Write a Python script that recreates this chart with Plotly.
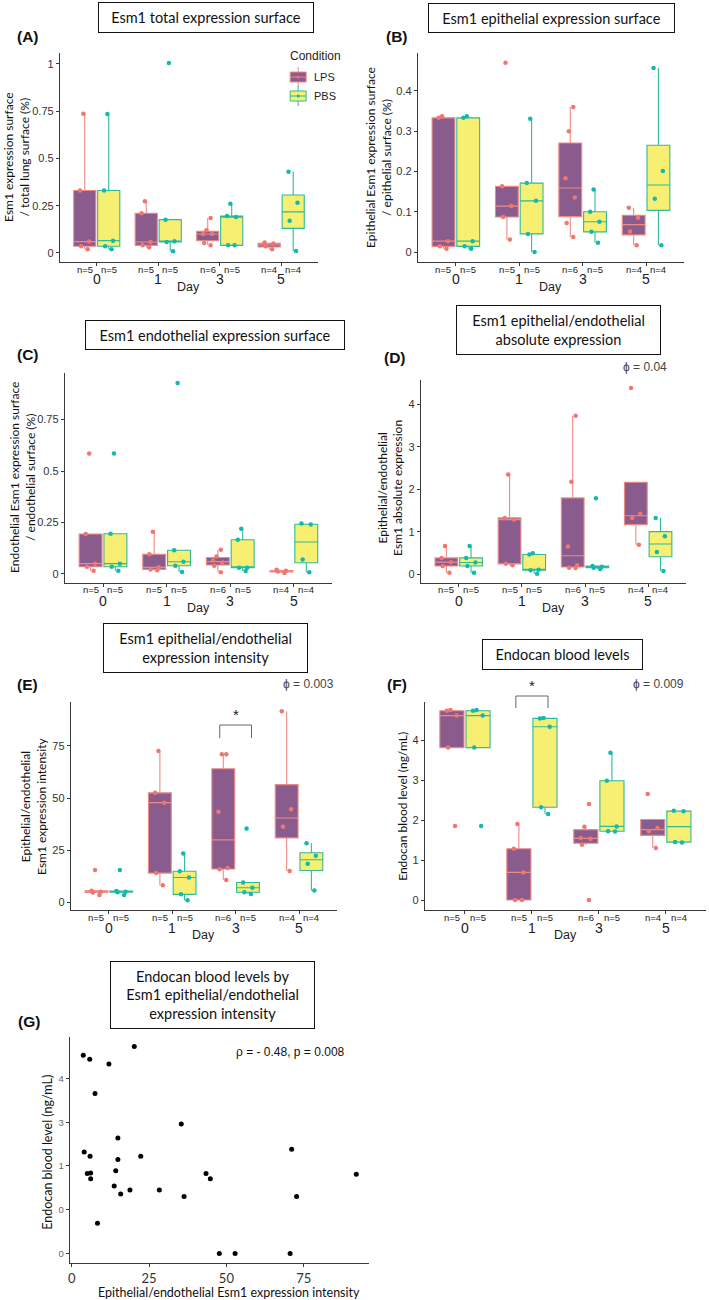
import numpy as np
import plotly.graph_objects as go

W, H = 709, 1300
DAYS = ["0", "1", "3", "5"]
CONDITIONS = ["LPS", "PBS"]

# ---- values (one list per day: 0, 1, 3, 5) ----
A_LPS = [[0.02, 0.035, 0.06, 0.33, 0.737], [0.03, 0.04, 0.058, 0.21, 0.273],
         [0.04, 0.053, 0.1, 0.1, 0.12, 0.185], [0.02, 0.035, 0.05, 0.055]]
A_PBS = [[0.02, 0.035, 0.065, 0.33, 0.735], [0.009, 0.058, 0.062, 0.176, 1.005],
         [0.04, 0.04, 0.19, 0.195, 0.26], [0.01, 0.17, 0.265, 0.43]]
B_LPS = [[0.008, 0.014, 0.027, 0.333, 0.337], [0.031, 0.087, 0.114, 0.163, 0.47],
         [0.037, 0.072, 0.135, 0.183, 0.30, 0.36], [0.017, 0.051, 0.085, 0.11]]
B_PBS = [[0.008, 0.014, 0.027, 0.333, 0.337], [0.0, 0.045, 0.127, 0.171, 0.331],
         [0.023, 0.05, 0.075, 0.1, 0.155], [0.017, 0.132, 0.201, 0.457]]
C_LPS = [[0.015, 0.035, 0.05, 0.194, 0.585], [0.018, 0.022, 0.032, 0.096, 0.205],
         [0.008, 0.04, 0.055, 0.065, 0.085, 0.118], [0.005, 0.012, 0.015, 0.02]]
C_PBS = [[0.015, 0.035, 0.05, 0.195, 0.585], [0.01, 0.04, 0.059, 0.115, 0.927],
         [0.014, 0.03, 0.03, 0.166, 0.22], [0.008, 0.07, 0.24, 0.245]]
D_LPS = [[0.04, 0.2, 0.29, 0.39, 0.67], [0.22, 0.25, 1.29, 1.33, 2.35],
         [0.15, 0.16, 0.22, 0.66, 2.18, 3.73], [0.7, 1.33, 1.43, 4.38]]
D_PBS = [[0.04, 0.2, 0.28, 0.39, 0.67], [0.016, 0.1, 0.11, 0.47, 0.5],
         [0.13, 0.16, 0.18, 0.2, 1.79], [0.08, 0.53, 0.9, 1.33]]
E_LPS = [[3.5, 4.7, 5.0, 5.5, 15.5], [8.2, 14, 47.8, 52.5, 72.6],
         [10.7, 15.8, 16.5, 43.4, 71, 71], [15, 36.2, 44.7, 91.7]]
E_PBS = [[3.5, 4.8, 5.0, 5.4, 15.5], [1, 3.8, 11.9, 14.9, 23.4],
         [4, 4.8, 7, 9.5, 35.4], [5.6, 18.5, 22.3, 28.3]]
F_LPS = [[1.85, 3.81, 4.61, 4.73, 4.75], [0, 0, 0.69, 1.28, 1.9],
         [0, 1.38, 1.53, 1.55, 1.83, 2.4], [1.3, 1.72, 1.8, 2.65]]
F_PBS = [[1.85, 3.81, 4.61, 4.73, 4.75], [2.15, 2.32, 4.33, 4.54, 4.55],
         [1.71, 1.72, 1.84, 2.98, 3.68], [1.44, 1.45, 2.22, 2.23]]

G_INTENSITY = [3.7, 5.8, 12.0, 20.2, 7.5, 35.4, 4.0, 5.9, 14.9, 14.9, 22.3, 5.0, 6.1, 6.1,
               14.2, 13.7, 15.8, 18.8, 28.3, 36.3, 43.4, 44.8, 71.1, 72.7, 92.0, 8.3,
               47.7, 52.8, 70.6]
G_ENDOCAN = [4.53, 4.44, 4.33, 4.73, 3.66, 2.96, 2.32, 2.22, 2.64, 2.15, 2.22, 1.83, 1.84, 1.71,
             1.89, 1.54, 1.36, 1.45, 1.45, 1.30, 1.83, 1.71, 2.38, 1.30, 1.81, 0.69,
             0.0, 0.0, 0.0]

PANEL_TITLES = ["Esm1 total expression surface", "Esm1 epithelial expression surface",
                "Esm1 endothelial expression surface",
                "Esm1 epithelial/endothelial<br>absolute expression",
                "Esm1 epithelial/endothelial<br>expression intensity",
                "Endocan blood levels",
                "Endocan blood levels by<br>Esm1 epithelial/endothelial<br>expression intensity"]
Y_TITLES = ["Esm1 expression surface<br>/ total lung surface (%)",
            "Epithelial Esm1 expression surface<br>/ epithelial surface (%)",
            "Endothelial Esm1 expression surface<br>/ endothelial surface (%)",
            "Epithelial/endothelial<br>Esm1 absolute expression",
            "Epithelial/endothelial<br>Esm1 expression intensity",
            "Endocan blood level (ng/mL)",
            "Endocan blood level (ng/mL)"]
G_X_TITLE = "Epithelial/endothelial Esm1 expression intensity"
G_Y_TICKTEXT = ["0", "0", "1", "3", "4"]
PVALUES = {"D": "ϕ = 0.04", "E": "ϕ = 0.003", "F": "ϕ = 0.009"}
G_STAT = "ρ = - 0.48, p = 0.008"

# ---- styles ----
LPS_FILL, PBS_FILL = "#8A5B8D", "#F7EF72"
LPS_LINE, PBS_LINE = "#EE8A86", "#2FBA98"
LPS_PT, PBS_PT = "#F2766E", "#13B9B0"
AX = "#3a3a3a"
TXT_FONT = "Lato"
TICK_FONT = "Liberation Sans"
OFF, BW = 0.195, 0.36


def X(px):
    return px / W


def Y(py):
    return 1 - py / H


def stats(vals):
    v = np.sort(np.asarray(vals, float))
    q1, med, q3 = np.percentile(v, [25, 50, 75])
    iqr = q3 - q1
    lo = v[v >= q1 - 1.5 * iqr].min()
    hi = v[v <= q3 + 1.5 * iqr].max()
    return q1, med, q3, lo, hi


annotations = []
shapes = []


def note(x, y, text, size, family=TICK_FONT, color="#222", xref="paper", yref="paper",
         xanchor="center", **kw):
    annotations.append(dict(x=x, y=y, xref=xref, yref=yref, text=text, showarrow=False,
                            xanchor=xanchor, yanchor="middle",
                            font=dict(size=size, family=family, color=color), **kw))


# panel geometry in page pixels: x-left, x-right, y-top, y-bottom
panels = [
    dict(k="A", lps=A_LPS, pbs=A_PBS, xd=(58, 317), yd=(53, 262), yr=(-0.048, 1.058),
         yt=[0, 0.25, 0.5, 0.75, 1], lab=(26, 37), box=(205, 17.5, 216, 31), yt_x=15, yt_y=157),
    dict(k="B", lps=B_LPS, pbs=B_PBS, xd=(417, 684), yd=(53, 262), yr=(-0.0248, 0.494),
         yt=[0, 0.1, 0.2, 0.3, 0.4], lab=(396, 37), box=(551.5, 18, 247, 30), yt_x=378, yt_y=157),
    dict(k="C", lps=C_LPS, pbs=C_PBS, xd=(63, 331), yd=(373, 583), yr=(-0.044, 0.976),
         yt=[0, 0.25, 0.5, 0.75], lab=(26, 355), box=(214, 335, 260, 30), yt_x=20, yt_y=477),
    dict(k="D", lps=D_LPS, pbs=D_PBS, xd=(420, 686), yd=(380, 583), yr=(-0.2, 4.57),
         yt=[0, 1, 2, 3, 4], lab=(394, 358), box=(558.5, 330, 205, 50), yt_x=389, yt_y=488),
    dict(k="E", lps=E_LPS, pbs=E_PBS, xd=(69, 336), yd=(702, 910), yr=(-3.7, 96.1),
         yt=[0, 25, 50, 75], lab=(26, 684), box=(204.5, 648, 205, 50), yt_x=31, yt_y=806),
    dict(k="F", lps=F_LPS, pbs=F_PBS, xd=(424, 706), yd=(702, 910), yr=(-0.25, 4.95),
         yt=[0, 1, 2, 3, 4], lab=(396, 684), box=(562.5, 654.5, 161, 31), yt_x=401, yt_y=806),
]

fig = go.Figure()

for i, p in enumerate(panels):
    n = "" if i == 0 else str(i + 1)
    xa, ya = "x" + n, "y" + n
    for cond, data, fill, line, pt, off in [
        ("LPS", p["lps"], LPS_FILL, LPS_LINE, LPS_PT, -OFF),
        ("PBS", p["pbs"], PBS_FILL, PBS_LINE, PBS_PT, OFF),
    ]:
        for d, vals in enumerate(data):
            pos = d + 1 + off
            q1, med, q3, lo, hi = stats(vals)
            fig.add_trace(go.Box(
                x=[pos], q1=[q1], median=[med], q3=[q3], lowerfence=[lo], upperfence=[hi],
                orientation="v", width=BW, fillcolor=fill, line=dict(color=line, width=1.1),
                whiskerwidth=0, boxpoints=False, xaxis=xa, yaxis=ya, name=cond,
                showlegend=False, hoverinfo="skip"))
            fig.add_trace(go.Box(
                x=[pos] * len(vals), y=vals, orientation="v", width=BW, boxpoints="all",
                jitter=0.5, pointpos=0, fillcolor="rgba(0,0,0,0)",
                line=dict(width=0, color="rgba(0,0,0,0)"), whiskerwidth=0,
                marker=dict(color=pt, size=4.5), xaxis=xa, yaxis=ya,
                showlegend=False, hoverinfo="skip"))
            note(pos, Y(p["yd"][1] + 7), f"n={len(vals)}", 9.5, xref=xa)
    for d, day in enumerate(DAYS):
        note(d + 1, Y(p["yd"][1] + 17.5), day, 14, xref=xa)
    note(0.5, Y(p["yd"][1] + 25), "Day", 12.5, xref=xa + " domain")
    fig.layout["xaxis" + n] = dict(
        domain=[X(p["xd"][0]), X(p["xd"][1])], range=[0.4, 4.6], anchor=ya,
        tickvals=[1, 2, 3, 4], showticklabels=False, ticks="outside", ticklen=3,
        tickcolor=AX, showline=True, linecolor=AX, linewidth=1, showgrid=False,
        zeroline=False)
    fig.layout["yaxis" + n] = dict(
        domain=[Y(p["yd"][1]), Y(p["yd"][0])], range=list(p["yr"]), anchor=xa,
        tickvals=p["yt"], ticks="outside", ticklen=3, tickcolor=AX, showline=True,
        linecolor=AX, linewidth=1, showgrid=False, zeroline=False,
        tickfont=dict(size=11, family=TICK_FONT, color="#333"))
    note(X(p["lab"][0]), Y(p["lab"][1]), f"<b>({p['k']})</b>", 15.5, color="#111")
    bx, by, bw, bh = p["box"]
    note(X(bx), Y(by), PANEL_TITLES[i], 14.5, family=TXT_FONT, color="#111",
         width=bw - 2, height=bh - 2, bordercolor="#111", borderwidth=1, borderpad=0,
         bgcolor="white")
    note(X(p["yt_x"]), Y(p["yt_y"]), Y_TITLES[i], 12, family=TXT_FONT, color="#111",
         textangle=-90)

# p-value texts
note(X(645), Y(367), PVALUES["D"], 12, color="#444")
note(X(307), Y(684), PVALUES["E"], 12, color="#444")
note(X(658), Y(684), PVALUES["F"], 12, color="#444")


# significance brackets (E: day 3, F: day 1)
def bracket(xa, center, half, y_top, y_bot, star_y):
    for x0, x1, y0, y1 in [(center - half, center + half, y_top, y_top),
                           (center - half, center - half, y_top, y_bot),
                           (center + half, center + half, y_top, y_bot)]:
        shapes.append(dict(type="line", xref=xa, yref="paper", x0=x0, x1=x1,
                           y0=Y(y0), y1=Y(y1), line=dict(color="#666", width=1)))
    note(center, Y(star_y), "*", 15, xref=xa)


bracket("x5", 3, 0.25, 725, 738, 714)
bracket("x6", 2, 0.24, 696, 708, 685)

# ---- legend (panel A) drawn as keys ----
note(X(287), Y(56), "Condition", 12, xanchor="left")
for cond, fill, line, pt, cy in [("LPS", LPS_FILL, LPS_LINE, LPS_PT, 77),
                                 ("PBS", PBS_FILL, PBS_LINE, PBS_PT, 96)]:
    shapes.append(dict(type="line", xref="paper", yref="paper", x0=X(297), x1=X(297),
                       y0=Y(cy - 10), y1=Y(cy + 10), line=dict(color=line, width=1)))
    shapes.append(dict(type="rect", xref="paper", yref="paper", x0=X(289), x1=X(305),
                       y0=Y(cy + 5), y1=Y(cy - 5), fillcolor=fill,
                       line=dict(color=line, width=1)))
    shapes.append(dict(type="line", xref="paper", yref="paper", x0=X(289), x1=X(305),
                       y0=Y(cy), y1=Y(cy), line=dict(color=line, width=1)))
    shapes.append(dict(type="circle", xref="paper", yref="paper", x0=X(295.5), x1=X(298.5),
                       y0=Y(cy + 1.5), y1=Y(cy - 1.5), fillcolor=pt, line=dict(width=0)))
    note(X(311), Y(cy), cond, 11, xanchor="left")

# ---- panel G scatter ----
fig.add_trace(go.Scatter(x=G_INTENSITY, y=G_ENDOCAN, mode="markers", xaxis="x7", yaxis="y7",
                         marker=dict(color="black", size=5), showlegend=False,
                         hoverinfo="skip"))
fig.layout["xaxis7"] = dict(domain=[X(68), X(368)], range=[-0.65, 96.1], anchor="y7",
                            tickvals=[0, 25, 50, 75], ticks="outside", ticklen=3, tickcolor=AX,
                            showline=True, linecolor=AX, showgrid=False, zeroline=False,
                            tickfont=dict(size=13, family=TXT_FONT, color="#333"))
fig.layout["yaxis7"] = dict(domain=[Y(1263), Y(1037)], range=[-0.22, 4.95], anchor="x7",
                            tickvals=[0, 1, 2, 3, 4], ticktext=G_Y_TICKTEXT, ticks="outside",
                            ticklen=3, tickcolor=AX, showline=True, linecolor=AX,
                            showgrid=False, zeroline=False,
                            tickfont=dict(size=9.5, family=TICK_FONT, color="#666"))
note(X(27), Y(1021), "<b>(G)</b>", 15.5, color="#111")
note(X(211.5), Y(995), PANEL_TITLES[6], 14.5, family=TXT_FONT, color="#111",
     width=203, height=66, bordercolor="#111", borderwidth=1, borderpad=0, bgcolor="white")
note(X(45), Y(1152), Y_TITLES[6], 12.5, family=TXT_FONT, color="#111", textangle=-90)
note(X(228), Y(1292), G_X_TITLE, 12.5, family=TXT_FONT, color="#111")
note(X(289.5), Y(1052), G_STAT, 12, color="#111")

fig.update_layout(width=W, height=H, margin=dict(l=0, r=0, t=0, b=0),
                  paper_bgcolor="white", plot_bgcolor="white", showlegend=False,
                  boxmode="overlay", annotations=annotations, shapes=shapes,
                  font=dict(family=TICK_FONT))
fig.write_html("out.html")
